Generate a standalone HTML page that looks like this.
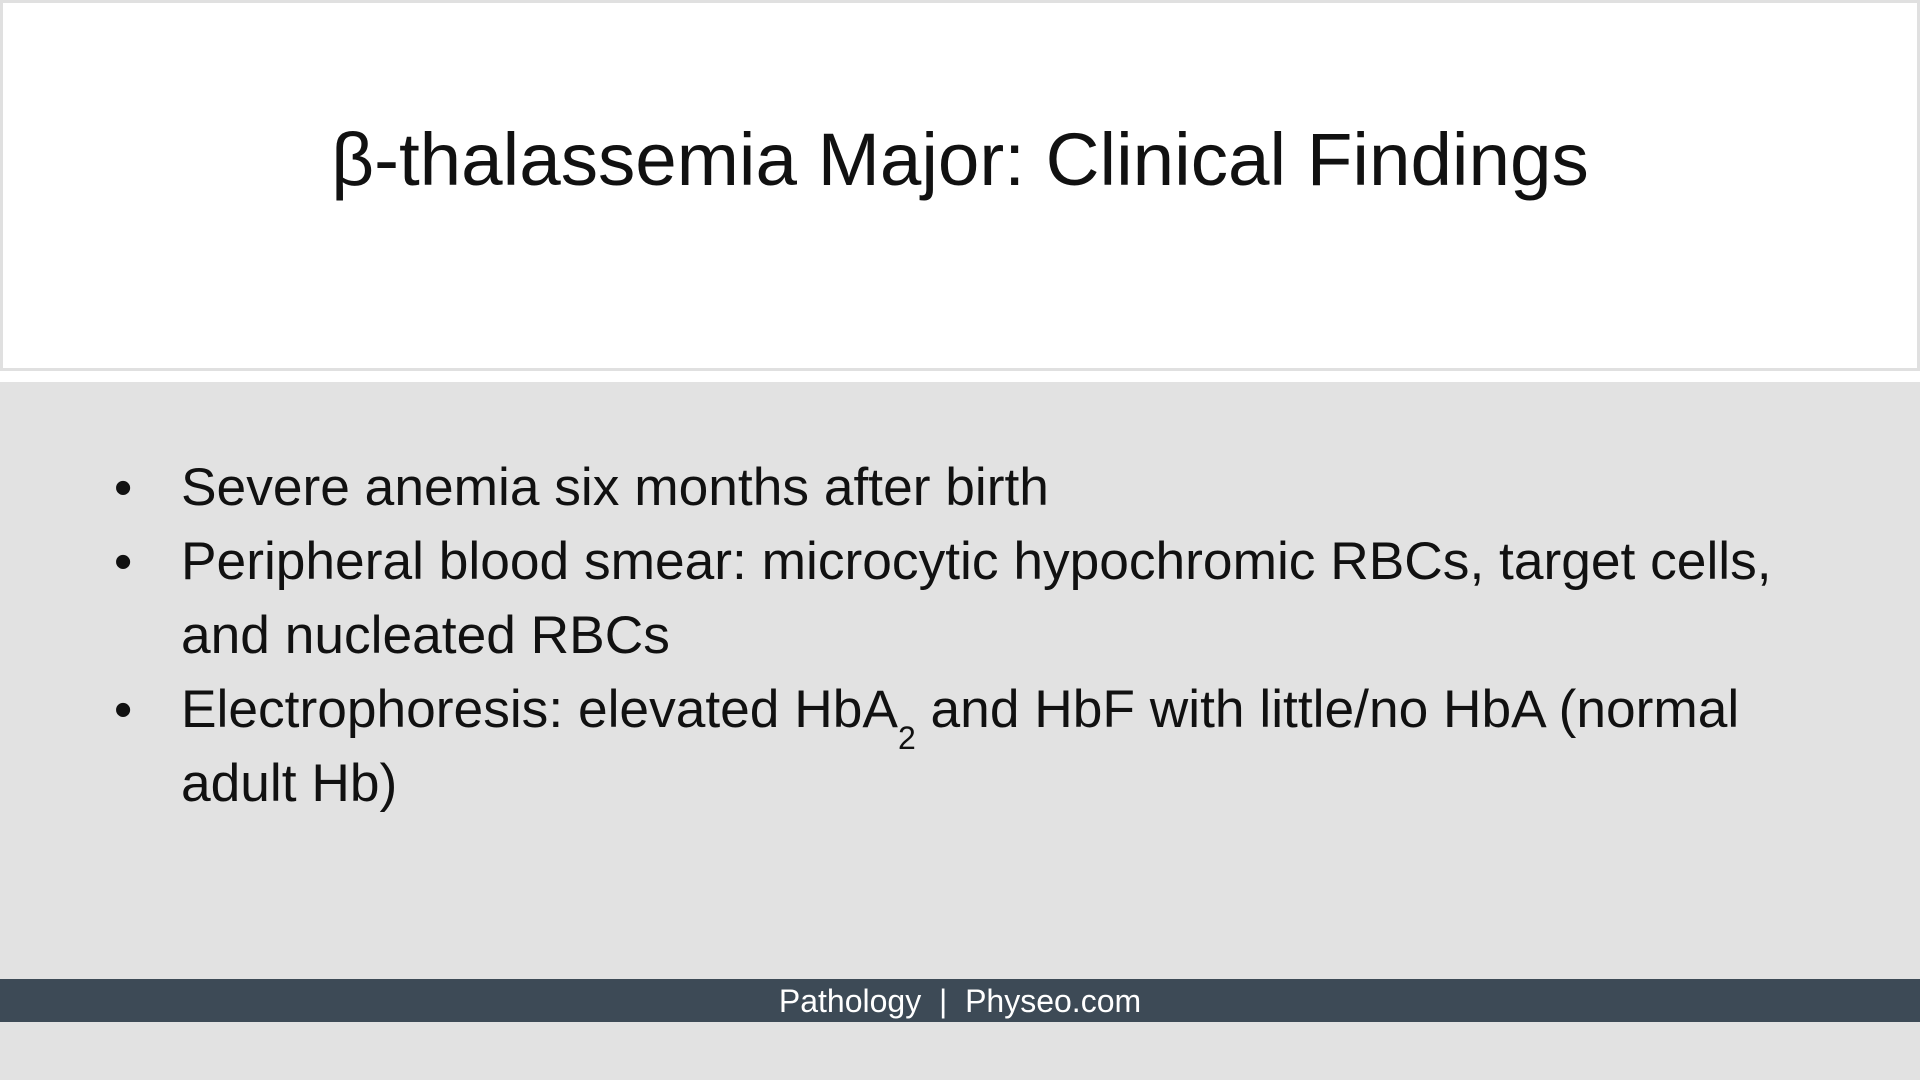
<!DOCTYPE html>
<html><head><meta charset="utf-8"><style>
html,body{margin:0;padding:0;width:1920px;height:1080px;overflow:hidden;background:#e2e2e2;font-family:"Liberation Sans",Arial,sans-serif;}
#top{position:absolute;left:0;top:0;width:1914px;height:365px;background:#fff;border:3px solid #e0e0e0;}
#gap{position:absolute;left:0;top:371px;width:1920px;height:11px;background:#fff;}
#title{position:absolute;left:0;width:1920px;top:122px;text-align:center;font-size:74.6px;color:#111;line-height:1;}
.b{position:absolute;left:0;font-size:53.3px;color:#111;line-height:1;white-space:nowrap;}
.dot{position:absolute;left:114px;font-size:52px;color:#111;line-height:1;}
#footer{position:absolute;left:0;top:979px;width:1920px;height:43px;background:#3d4a56;color:#fff;font-size:32px;text-align:center;line-height:45px;}
sub{font-size:32px;vertical-align:-22px;line-height:0;}
</style></head><body>
<div id="top"></div>
<div id="gap"></div>
<div id="title">β-thalassemia Major: Clinical Findings</div>
<div class="dot" style="top:462px">•</div>
<div class="b" style="left:181px;top:461px">Severe anemia six months after birth</div>
<div class="dot" style="top:536px">•</div>
<div class="b" style="left:181px;top:535px">Peripheral blood smear: microcytic hypochromic RBCs, target cells,</div>
<div class="b" style="left:181px;top:609px">and nucleated RBCs</div>
<div class="dot" style="top:684px">•</div>
<div class="b" style="left:181px;top:683px">Electrophoresis: elevated HbA<sub>2</sub> and HbF with little/no HbA (normal</div>
<div class="b" style="left:181px;top:757px">adult Hb)</div>
<div id="footer">Pathology &nbsp;|&nbsp; Physeo.com</div>
</body></html>
